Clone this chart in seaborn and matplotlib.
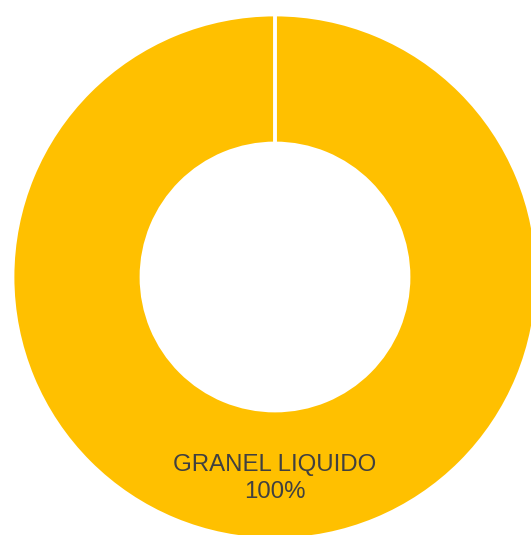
import numpy as np
import matplotlib
matplotlib.use("Agg")
import matplotlib.pyplot as plt
import seaborn as sns

# ---- data -------------------------------------------------------------------
categories = ["GRANEL LIQUIDO"]
shares = [100]
colours = ["#FFC000"]

sns.set_theme(style="white")
plt.rcParams['font.family'] = ['Liberation Sans', 'DejaVu Sans']

W, H, DPI = 531, 535, 100
fig = plt.figure(figsize=(W / DPI, H / DPI), dpi=DPI)

# donut geometry (pixels in the reference)
cx, cy, r_out, r_in = 275, 277, 262, 134
ax = fig.add_axes([(cx - r_out) / W, (H - cy - r_out) / H, 2 * r_out / W, 2 * r_out / H])
ax.set_xlim(-1, 1)
ax.set_ylim(-1, 1)
ax.set_aspect("equal")
ax.axis("off")

ring = 1 - r_in / r_out
labels = [f"{c}\n{v:.0f}%" for c, v in zip(categories, shares)]
wedges, texts = ax.pie(shares, labels=labels, colors=colours, startangle=90,
                       counterclock=False, radius=1,
                       labeldistance=1 - ring / 2 + 0.012,
                       wedgeprops=dict(width=ring, edgecolor="white", linewidth=2),
                       textprops=dict(color="#404040", fontsize=17.3, ha="center",
                                      va="center", multialignment="center",
                                      linespacing=1.3))
ax.set_xlim(-1, 1)
ax.set_ylim(-1, 1)

# white separator at the start of the first slice
theta = np.deg2rad(90)
ax.plot([(1 - ring) * np.cos(theta), np.cos(theta)],
        [(1 - ring) * np.sin(theta), np.sin(theta)],
        color="white", lw=2.8, solid_capstyle="butt")

fig.savefig("out.png", dpi=DPI)
